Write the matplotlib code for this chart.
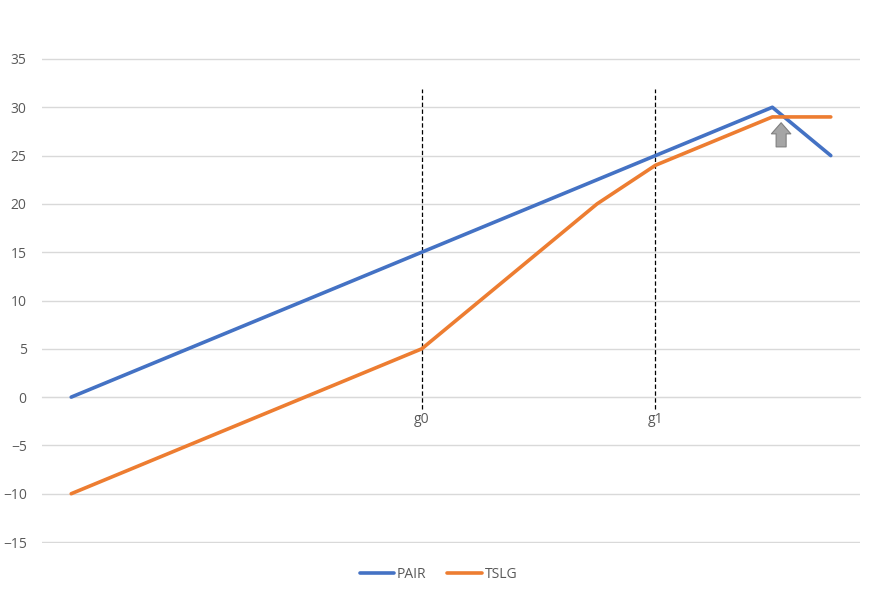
import matplotlib
matplotlib.use('Agg')
import matplotlib.pyplot as plt
import numpy as np

# category labels (only two named)
categories = ['', '', '', '', '', '', 'g0', '', '', '', 'g1', '', '', '']
pair = [0, 2.5, 5, 7.5, 10, 12.5, 15, 17.5, 20, 22.5, 25, 27.5, 30, 25]
tslg = [-10, -7.5, -5, -2.5, 0, 2.5, 5, 10, 15, 20, 24, 26.5, 29, 29]

# dashed marker lines at g0 / g1
marker_pos = [6, 10]
marker_low = -1.2
marker_high = 31.9

# block arrow annotation
arrow_x = 12.15
arrow_y = [25.9, 28.4]

yticks = [-15, -10, -5, 0, 5, 10, 15, 20, 25, 30, 35]

plt.rcParams['font.family'] = ['Open Sans', 'DejaVu Sans']

fig = plt.figure(figsize=(8.77, 5.96), dpi=100)
ax = fig.add_axes([42/877, 1-543/596, (860-42)/877, (543-58)/596])

x = np.arange(len(categories))
ax.plot(x, pair, color='#4472C4', lw=2.6, label='PAIR', solid_capstyle='round', zorder=3)
ax.plot(x, tslg, color='#ED7D31', lw=2.6, label='TSLG', solid_capstyle='round', zorder=3)

for p in marker_pos:
    ax.plot([p, p], [marker_low, marker_high], color='black', lw=0.9,
            linestyle=(0, (3.5, 2)), zorder=2)

ax.annotate('', xy=(arrow_x, arrow_y[1]), xytext=(arrow_x, arrow_y[0]),
            arrowprops=dict(arrowstyle='simple,head_length=0.8,head_width=1.4,tail_width=0.72',
                            fc='#A5A5A5', ec='#7F7F7F', lw=0.8,
                            shrinkA=0, shrinkB=0, mutation_scale=10),
            zorder=4)

ax.set_xlim(-0.5, len(categories) - 0.5)
ax.set_ylim(-15.1, 35.1)
ax.set_yticks(yticks)
ax.yaxis.grid(True, color='#D9D9D9', lw=1)
ax.set_axisbelow(True)
for s in ['top', 'right', 'left']:
    ax.spines[s].set_visible(False)
ax.spines['bottom'].set_position(('data', 0))
ax.spines['bottom'].set_color('#D9D9D9')
ax.set_xticks(x)
ax.set_xticklabels(categories)
ax.tick_params(axis='x', length=0, pad=11, labelsize=10, labelcolor='#595959')
ax.tick_params(axis='y', length=0, pad=11, labelsize=10, labelcolor='#595959')

fig.legend(loc='center', bbox_to_anchor=(0.5, 1-574/596), ncol=2, frameon=False,
           fontsize=10, labelcolor='#595959', handlelength=2.5, handletextpad=0.2,
           columnspacing=1.5)

fig.savefig('out.png', dpi=100)
